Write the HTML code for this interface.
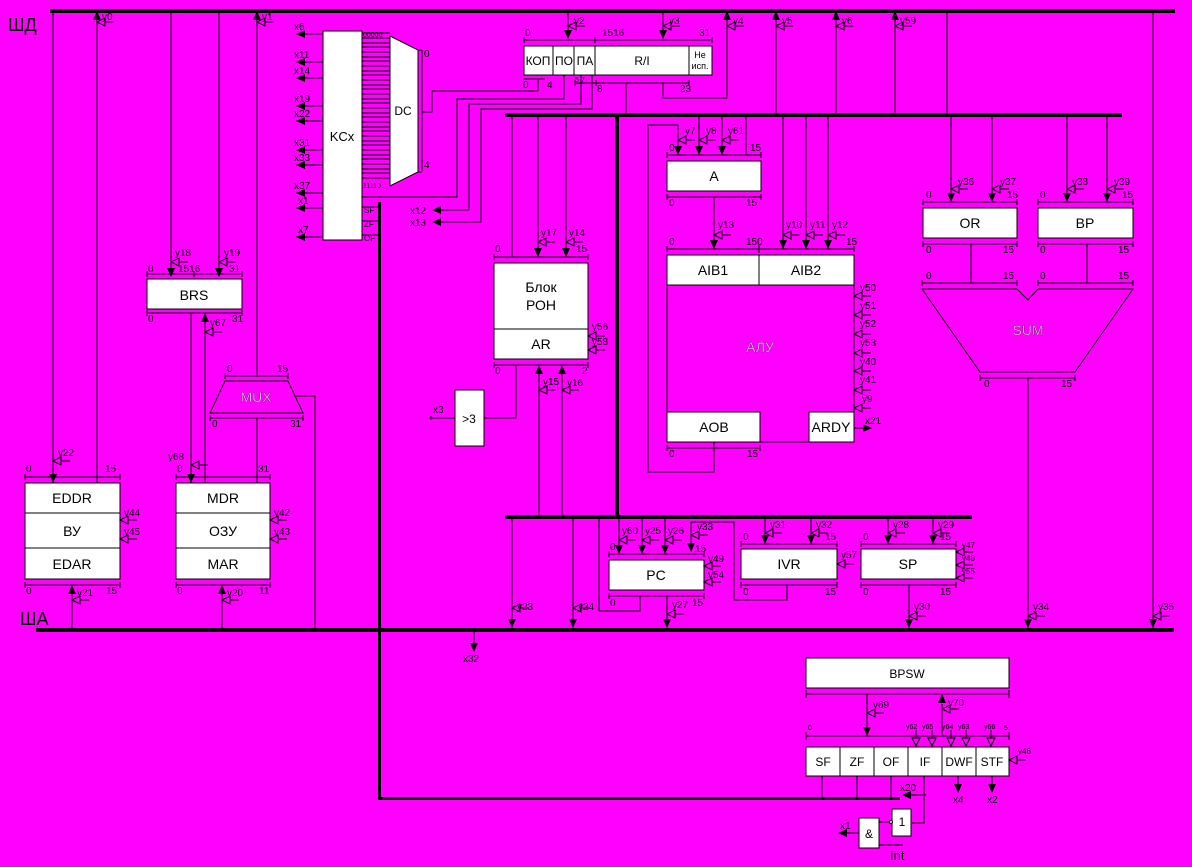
<!DOCTYPE html>
<html><head><meta charset="utf-8"><style>
html,body{margin:0;padding:0;background:#ff00ff;}
svg{display:block}
text{font-family:"Liberation Sans","DejaVu Sans",sans-serif;fill:#000}
.s{font-size:10px}
.m{font-size:14px}
.b{font-size:18px}
.lt{fill:#ffc0ff;stroke:#000;stroke-width:0.25}
</style></head><body>
<svg width="1192" height="867" viewBox="0 0 1192 867" xmlns="http://www.w3.org/2000/svg">
<defs>
<polygon id="d" points="-4,-9 4,-9 0,0" fill="#000"/>
<polygon id="u" points="-4,9 4,9 0,0" fill="#000"/>
<polygon id="l" points="9,-4 9,4 0,0" fill="#000"/>
<polygon id="r" points="-9,-4 -9,4 0,0" fill="#000"/>
<g id="c"><polygon points="0,0 8,-4 8,4" fill="none" stroke="#000"/><line x1="8" y1="0" x2="17" y2="0" stroke="#000"/></g>
<g id="cd"><polygon points="-4,-8 4,-8 0,0" fill="none" stroke="#000"/><line x1="0" y1="-8" x2="0" y2="-16" stroke="#000"/></g>
</defs>
<rect width="1192" height="867" fill="#ff00ff"/>

<rect x="50" y="9" width="1125" height="4" fill="#000"/>
<rect x="36" y="628" width="1138" height="4" fill="#000"/>
<rect x="505" y="113" width="617" height="4" fill="#000"/>
<rect x="615" y="115" width="4" height="402" fill="#000"/>
<rect x="505" y="515" width="467" height="4" fill="#000"/>
<rect x="378" y="202" width="3" height="598" fill="#000"/>
<rect x="378" y="797" width="522" height="3" fill="#000"/>
<text x="8" y="31" class="b">ШД</text>
<text x="20" y="625" class="b">ША</text>

<g stroke="#000" fill="none" stroke-width="1">
<line x1="53" y1="11" x2="53" y2="483"/>
<line x1="97" y1="11" x2="97" y2="483"/>
<line x1="171" y1="11" x2="171" y2="275"/>
<line x1="219" y1="11" x2="219" y2="275"/>
<line x1="257" y1="11" x2="257" y2="376"/>
<line x1="191" y1="313" x2="191" y2="483"/>
<line x1="205" y1="313" x2="205" y2="483"/>
<line x1="257" y1="418" x2="257" y2="483"/>
<polyline points="296,396 315,396 315,630"/>
<line x1="72" y1="585" x2="72" y2="630"/>
<line x1="222" y1="585" x2="222" y2="630"/>
<rect x="25" y="483" width="95" height="96" fill="#fff"/>
<line x1="25" y1="513" x2="120" y2="513"/><line x1="25" y1="548" x2="120" y2="548"/>
<rect x="176" y="483" width="94" height="96" fill="#fff"/>
<line x1="176" y1="513" x2="270" y2="513"/><line x1="176" y1="548" x2="270" y2="548"/>
<rect x="147" y="279" width="95" height="30" fill="#fff"/>
<polygon points="225,381 288,381 303,413 210,413" />
<path d="M25,477H120M25,474v6M120,474v6"/>
<path d="M25,585H120M25,582v6M120,582v6"/>
<path d="M176,477H270M176,474v6M270,474v6"/>
<path d="M176,585H270M176,582v6M270,582v6"/>
<path d="M147,274H242M147,271v6M242,271v6M194,271v6"/>
<path d="M147,313H242M147,310v6M242,310v6"/>
<path d="M225,376H288M225,373v6M288,373v6"/>
<path d="M210,418H303M210,415v6M303,415v6"/>

<rect x="323" y="31" width="39" height="209" fill="#fff"/>
<polygon points="390,36 418,50 418,172 390,186" fill="#fff"/>
<path d="M422,50V172M418,50h4M418,172h4"/>
<path d="M362,33H390M362,38H390M362,43H390M362,47H390M362,52H390M362,57H390M362,61H390M362,66H390M362,71H390M362,75H390M362,80H390M362,85H390M362,89H390M362,94H390M362,99H390M362,103H390M362,108H390M362,113H390M362,117H390M362,122H390M362,127H390M362,131H390M362,136H390M362,141H390M362,145H390M362,150H390M362,155H390M362,159H390M362,164H390M362,169H390M362,173H390M362,178H390"/>
<path d="M362,197H457V99H564V75"/>
<path d="M422,112H432V91H538V79M523,79H545"/>
<path d="M440,210H469V104H581V75"/>
<path d="M440,222H481V109H592V75"/>
<path d="M362,207H378M362,221H378M362,235H378"/>
<path d="M296,34H323M296,62H323M296,78H323M296,106H323M296,121H323M296,150H323M296,165H323M296,193H323M296,208H323M296,237H323"/>

<rect x="524" y="46" width="188" height="29" fill="#fff"/>
<path d="M553,46V75M574,46V75M595,46V75M689,46V75"/>
<path d="M524,40H712M524,37v6M712,37v6M595,37v6"/>
<line x1="568" y1="11" x2="568" y2="36"/>
<line x1="663" y1="11" x2="663" y2="36"/>
<path d="M575,83H689M575,80v6M689,80v6M596,80v6"/>
<path d="M663,83V98H727V11"/>
<line x1="626" y1="83" x2="626" y2="115"/>
<line x1="776" y1="11" x2="776" y2="115"/>
<line x1="836" y1="11" x2="836" y2="115"/>
<line x1="895" y1="11" x2="895" y2="115"/>
<line x1="947" y1="11" x2="947" y2="115"/>
<line x1="1153" y1="11" x2="1153" y2="628"/>

<line x1="512" y1="115" x2="512" y2="257"/>
<line x1="538" y1="115" x2="538" y2="251"/>
<line x1="566" y1="115" x2="566" y2="251"/>
<rect x="494" y="263" width="94" height="96" fill="#fff"/>
<line x1="494" y1="329" x2="588" y2="329"/>
<path d="M494,257H588M494,254v6M588,254v6"/>
<path d="M494,365H588M494,362v6M588,362v6"/>
<line x1="539" y1="365" x2="539" y2="517"/>
<line x1="562" y1="365" x2="562" y2="517"/>
<rect x="455" y="390" width="29" height="56" fill="#fff"/>
<path d="M484,418H516V365"/>
<line x1="431" y1="418" x2="455" y2="418"/>

<path d="M714,442V472H648V125H678V150"/>
<line x1="699" y1="115" x2="699" y2="150"/>
<line x1="722" y1="115" x2="722" y2="150"/>
<line x1="746" y1="115" x2="746" y2="155"/>
<rect x="667" y="161" width="94" height="30" fill="#fff"/>
<path d="M667,155H761M667,152v6M761,152v6"/>
<path d="M667,197H761M667,194v6M761,194v6"/>
<line x1="714" y1="197" x2="714" y2="240"/>
<line x1="783" y1="115" x2="783" y2="240"/>
<line x1="806" y1="115" x2="806" y2="240"/>
<line x1="828" y1="115" x2="828" y2="240"/>
<path d="M667,249H854M667,246v6M854,246v6M759,245v8"/>
<rect x="667" y="255" width="187" height="187"/>
<rect x="667" y="255" width="92" height="30" fill="#fff"/>
<rect x="759" y="255" width="95" height="30" fill="#fff"/>
<rect x="667" y="412" width="93" height="30" fill="#fff"/>
<rect x="809" y="412" width="45" height="30" fill="#fff"/>
<path d="M667,448H760M667,445v6M760,445v6"/>
<line x1="854" y1="428" x2="870" y2="428"/>

<line x1="951" y1="115" x2="951" y2="199"/>
<line x1="992" y1="115" x2="992" y2="199"/>
<line x1="1067" y1="115" x2="1067" y2="199"/>
<line x1="1107" y1="115" x2="1107" y2="199"/>
<rect x="923" y="208" width="94" height="30" fill="#fff"/>
<rect x="1038" y="208" width="95" height="30" fill="#fff"/>
<path d="M923,202H1017M923,199v6M1017,199v6"/>
<path d="M1038,202H1133M1038,199v6M1133,199v6"/>
<path d="M923,244H1017M923,241v6M1017,241v6"/>
<path d="M1038,244H1133M1038,241v6M1133,241v6"/>
<line x1="971" y1="244" x2="971" y2="283"/>
<line x1="1087" y1="244" x2="1087" y2="283"/>
<path d="M922,283H1017M922,280v6M1017,280v6"/>
<path d="M1038,283H1133M1038,280v6M1133,280v6"/>
<polygon points="922,289 1017,289 1028,300 1038,289 1133,289 1075,372 980,372"/>
<path d="M980,378H1075M980,375v6M1075,375v6"/>
<line x1="1028" y1="378" x2="1028" y2="628"/>

<line x1="512" y1="517" x2="512" y2="622"/>
<line x1="573" y1="517" x2="573" y2="622"/>
<path d="M599,517V611H640V596"/>
<line x1="619" y1="517" x2="619" y2="545"/>
<line x1="642" y1="517" x2="642" y2="545"/>
<line x1="665" y1="517" x2="665" y2="545"/>
<path d="M691,545V522H734V600H787V585"/>
<rect x="609" y="560" width="95" height="30" fill="#fff"/>
<path d="M609,554H704M609,551v6M704,551v6"/>
<path d="M609,596H704M609,593v6M704,593v6"/>
<line x1="667" y1="596" x2="667" y2="622"/>
<line x1="765" y1="517" x2="765" y2="535"/>
<line x1="811" y1="517" x2="811" y2="535"/>
<rect x="741" y="549" width="96" height="30" fill="#fff"/>
<path d="M741,544H837M741,541v6M837,541v6"/>
<path d="M741,585H837M741,582v6M837,582v6"/>
<line x1="888" y1="517" x2="888" y2="535"/>
<line x1="933" y1="517" x2="933" y2="535"/>
<rect x="861" y="549" width="95" height="30" fill="#fff"/>
<path d="M861,544H956M861,541v6M956,541v6"/>
<path d="M861,585H956M861,582v6M956,582v6"/>
<line x1="909" y1="585" x2="909" y2="622"/>
<line x1="474" y1="630" x2="474" y2="645"/>

<rect x="806" y="658" width="203" height="30" fill="#fff"/>
<path d="M806,694H1009M806,690v8M1009,690v8"/>
<line x1="867" y1="694" x2="867" y2="728"/>
<line x1="942" y1="704" x2="942" y2="736"/>
<path d="M806,736H1009M806,732v8M1009,732v8"/>
<rect x="806" y="747" width="203" height="29" fill="#fff"/>
<path d="M840,747V776M874,747V776M908,747V776M942,747V776M976,747V776"/>
<path d="M822,776V798M857,776V798M891,776V798"/>
<line x1="904" y1="795" x2="926" y2="795"/>
<path d="M924,776V823H912"/>
<line x1="958" y1="776" x2="958" y2="786"/>
<line x1="992" y1="776" x2="992" y2="786"/>
<rect x="892" y="809" width="19" height="27" fill="#fff"/>
<rect x="859" y="818" width="20" height="30" fill="#fff"/>
<line x1="879" y1="822" x2="890" y2="822"/>
<line x1="879" y1="845" x2="903" y2="845"/>
<line x1="846" y1="833" x2="859" y2="833"/>
</g>
<circle cx="891" cy="822" r="1.5" fill="#fff" stroke="#000"/>

<use href="#d" x="53" y="483"/><use href="#u" x="97" y="11"/>
<use href="#d" x="171" y="277"/><use href="#d" x="219" y="277"/>
<use href="#u" x="257" y="11"/>
<use href="#d" x="191" y="483"/><use href="#u" x="205" y="313"/>
<use href="#u" x="72" y="585"/><use href="#u" x="222" y="585"/>
<use href="#d" x="568" y="39"/><use href="#d" x="663" y="39"/>
<use href="#u" x="727" y="11"/><use href="#u" x="776" y="11"/><use href="#u" x="836" y="11"/><use href="#u" x="895" y="11"/>
<use href="#l" x="296" y="34"/><use href="#l" x="296" y="62"/><use href="#l" x="296" y="78"/><use href="#l" x="296" y="106"/><use href="#l" x="296" y="121"/><use href="#l" x="296" y="150"/><use href="#l" x="296" y="165"/><use href="#l" x="296" y="193"/><use href="#l" x="296" y="208"/><use href="#l" x="296" y="237"/>
<use href="#l" x="432" y="210"/><use href="#l" x="432" y="222"/>
<use href="#d" x="538" y="257"/><use href="#d" x="566" y="257"/>
<use href="#u" x="539" y="365"/><use href="#u" x="562" y="365"/>
<circle cx="431" cy="418" r="1.5" fill="#000"/>
<use href="#d" x="678" y="155"/><use href="#d" x="699" y="155"/><use href="#d" x="722" y="155"/>
<use href="#d" x="714" y="249"/><use href="#d" x="783" y="249"/><use href="#d" x="806" y="249"/><use href="#d" x="828" y="249"/>
<use href="#r" x="872" y="428"/>
<use href="#d" x="951" y="202"/><use href="#d" x="992" y="202"/><use href="#d" x="1067" y="202"/><use href="#d" x="1107" y="202"/>
<use href="#d" x="512" y="628"/><use href="#d" x="573" y="628"/><use href="#d" x="667" y="628"/><use href="#d" x="909" y="628"/><use href="#d" x="1028" y="628"/><use href="#d" x="1153" y="628"/>
<use href="#d" x="619" y="554"/><use href="#d" x="642" y="554"/><use href="#d" x="665" y="554"/><use href="#d" x="691" y="552"/>
<use href="#d" x="765" y="544"/><use href="#d" x="811" y="544"/><use href="#d" x="888" y="544"/><use href="#d" x="933" y="544"/>
<use href="#d" x="474" y="652"/>
<use href="#d" x="867" y="736"/><use href="#u" x="942" y="694"/>
<use href="#l" x="902" y="795"/><use href="#d" x="958" y="793"/><use href="#d" x="992" y="793"/>
<use href="#l" x="838" y="833"/>

<use href="#c" x="97" y="22"/><use href="#c" x="257" y="22"/>
<use href="#c" x="171" y="262"/><use href="#c" x="219" y="262"/>
<use href="#c" x="53" y="461"/><use href="#c" x="191" y="465"/>
<use href="#c" x="205" y="332"/>
<use href="#c" x="72" y="600"/><use href="#c" x="222" y="600"/>
<use href="#c" x="120" y="520"/><use href="#c" x="120" y="539"/>
<use href="#c" x="270" y="520"/><use href="#c" x="270" y="539"/>
<use href="#c" x="568" y="26"/><use href="#c" x="663" y="26"/><use href="#c" x="727" y="26"/><use href="#c" x="776" y="26"/><use href="#c" x="836" y="26"/><use href="#c" x="895" y="26"/>
<use href="#c" x="538" y="242"/><use href="#c" x="566" y="242"/>
<use href="#c" x="588" y="336"/><use href="#c" x="588" y="350"/>
<use href="#c" x="539" y="390"/><use href="#c" x="562" y="390"/>
<use href="#c" x="678" y="140"/><use href="#c" x="699" y="140"/><use href="#c" x="722" y="140"/>
<use href="#c" x="714" y="235"/><use href="#c" x="783" y="235"/><use href="#c" x="806" y="235"/><use href="#c" x="828" y="235"/>
<use href="#c" x="854" y="296"/><use href="#c" x="854" y="315"/><use href="#c" x="854" y="334"/><use href="#c" x="854" y="353"/><use href="#c" x="854" y="371"/><use href="#c" x="854" y="390"/><use href="#c" x="854" y="408"/>
<use href="#c" x="951" y="189"/><use href="#c" x="992" y="189"/><use href="#c" x="1067" y="189"/><use href="#c" x="1107" y="189"/>
<use href="#c" x="512" y="608"/><use href="#c" x="573" y="608"/><use href="#c" x="667" y="614"/><use href="#c" x="909" y="616"/><use href="#c" x="1028" y="616"/><use href="#c" x="1153" y="616"/>
<use href="#c" x="619" y="540"/><use href="#c" x="642" y="540"/><use href="#c" x="665" y="540"/><use href="#c" x="691" y="535"/>
<use href="#c" x="704" y="566"/><use href="#c" x="704" y="582"/>
<use href="#c" x="765" y="533"/><use href="#c" x="811" y="533"/><use href="#c" x="888" y="533"/><use href="#c" x="933" y="533"/>
<use href="#c" x="837" y="564"/>
<use href="#c" x="956" y="552"/><use href="#c" x="956" y="565"/><use href="#c" x="956" y="578"/>
<use href="#c" x="867" y="713"/><use href="#c" x="942" y="709"/>
<use href="#cd" x="916" y="746"/><use href="#cd" x="932" y="746"/><use href="#cd" x="951" y="746"/><use href="#cd" x="966" y="746"/><use href="#cd" x="991" y="746"/>
<use href="#c" x="1009" y="760"/>

<g class="m" text-anchor="middle">
<text x="72" y="503">EDDR</text><text x="72" y="536">ВУ</text><text x="72" y="569">EDAR</text>
<text x="223" y="503">MDR</text><text x="223" y="536">ОЗУ</text><text x="223" y="569">MAR</text>
<text x="194" y="300">BRS</text>
<text x="256" y="402" class="lt">MUX</text>
<text x="342" y="141" font-size="13">KCx</text>
<text x="403" y="115" font-size="12">DC</text>
<text x="541" y="292">Блок</text><text x="541" y="310">РОН</text><text x="541" y="349">AR</text>
<text x="469" y="423" font-size="12">&gt;3</text>
<text x="714" y="181">A</text>
<text x="713" y="275">AIB1</text><text x="806" y="275">AIB2</text>
<text x="760" y="352" class="lt">АЛУ</text>
<text x="714" y="432">AOB</text><text x="831" y="432">ARDY</text>
<text x="970" y="228">OR</text><text x="1085" y="228">BP</text>
<text x="1028" y="335" class="lt">SUM</text>
<text x="656" y="580">PC</text><text x="789" y="569">IVR</text><text x="908" y="569">SP</text>
<text x="907" y="678" font-size="12">BPSW</text>
<g font-size="12"><text x="823" y="766">SF</text><text x="857" y="766">ZF</text><text x="891" y="766">OF</text><text x="925" y="766">IF</text><text x="959" y="766">DWF</text><text x="992" y="766">STF</text></g>
<g font-size="12"><text x="538" y="65">КОП</text><text x="564" y="65">ПО</text><text x="585" y="65">ПА</text><text x="642" y="65">R/I</text></g>
<text x="700" y="58" font-size="9">Не</text><text x="700" y="69" font-size="9">исп.</text>
<text x="869" y="838" font-size="12">&amp;</text><text x="902" y="826" font-size="12">1</text>
</g>
<text x="890" y="860" font-size="13">Int</text>

<g class="s">
<text x="102" y="20">y0</text><text x="262" y="20">y1</text>
<text x="574" y="24">y2</text><text x="669" y="24">y3</text><text x="733" y="24">y4</text><text x="782" y="24">y5</text><text x="842" y="24">y6</text><text x="900" y="24">y59</text>
<text x="175" y="256">y18</text><text x="224" y="256">y19</text>
<text x="148" y="272">0</text><text x="178" y="272">1516</text><text x="229" y="272">31</text>
<text x="148" y="322">0</text><text x="210" y="326">y67</text><text x="232" y="322">31</text>
<text x="227" y="372">0</text><text x="277" y="372">15</text><text x="212" y="427">0</text><text x="290" y="427">31</text>
<text x="58" y="456">y22</text><text x="168" y="460">y68</text>
<text x="26" y="472">0</text><text x="105" y="472">15</text><text x="177" y="472">0</text><text x="258" y="472">31</text>
<text x="124" y="516">y44</text><text x="124" y="535">y45</text><text x="274" y="516">y42</text><text x="274" y="535">y43</text>
<text x="26" y="594">0</text><text x="106" y="594">15</text><text x="77" y="596">y21</text>
<text x="177" y="594">0</text><text x="259" y="594">11</text><text x="227" y="596">y20</text>
<text x="294" y="30">x6</text><text x="294" y="58">x11</text><text x="294" y="74">x14</text><text x="294" y="102">x19</text><text x="294" y="117">x22</text><text x="294" y="146">x31</text><text x="294" y="161">x33</text><text x="294" y="189">x37</text><text x="298" y="204">x1</text><text x="298" y="233">x7</text>
<text x="363" y="37" font-size="7">00000</text><text x="363" y="188" font-size="7">11110</text>
<text x="424" y="57">0</text><text x="424" y="168">4</text>
<text x="364" y="213" font-size="8">SF</text><text x="364" y="227" font-size="8">ZF</text><text x="364" y="241" font-size="8">OF</text>
<text x="410" y="214">x12</text><text x="410" y="226">x13</text>
<text x="525" y="36">0</text><text x="602" y="36">1516</text><text x="699" y="36">31</text>
<text x="523" y="88">0</text><text x="547" y="88">4</text><text x="575" y="82" font-size="7">5 7</text><text x="597" y="92">8</text><text x="680" y="92">23</text>
<text x="541" y="236">y17</text><text x="569" y="236">y14</text><text x="495" y="252">0</text><text x="576" y="252">15</text>
<text x="592" y="330">y56</text><text x="592" y="345">y58</text>
<text x="495" y="374">0</text><text x="582" y="374">2</text><text x="543" y="385">y15</text><text x="567" y="386">y16</text>
<text x="433" y="413">x3</text>
<text x="685" y="134">y7</text><text x="706" y="134">y8</text><text x="728" y="134">y61</text>
<text x="669" y="151">0</text><text x="750" y="151">15</text><text x="669" y="206">0</text><text x="746" y="206">15</text>
<text x="718" y="228">y13</text><text x="786" y="228">y10</text><text x="810" y="228">y11</text><text x="832" y="228">y12</text>
<text x="669" y="245">0</text><text x="746" y="245">150</text><text x="846" y="245">15</text>
<text x="860" y="291">y50</text><text x="860" y="309">y51</text><text x="860" y="327">y52</text><text x="860" y="346">y53</text><text x="860" y="365">y40</text><text x="860" y="383">y41</text><text x="862" y="402">y9</text><text x="865" y="424">x21</text>
<text x="669" y="457">0</text><text x="747" y="457">15</text>
<text x="958" y="185">y36</text><text x="1000" y="185">y37</text><text x="1072" y="185">y38</text><text x="1114" y="185">y39</text>
<text x="926" y="198">0</text><text x="1007" y="198">15</text><text x="1040" y="198">0</text><text x="1122" y="198">15</text>
<text x="926" y="253">0</text><text x="1003" y="253">15</text><text x="1040" y="253">0</text><text x="1118" y="253">15</text>
<text x="926" y="279">0</text><text x="1003" y="279">15</text><text x="1040" y="279">0</text><text x="1118" y="279">15</text>
<text x="984" y="387">0</text><text x="1061" y="387">15</text>
<text x="517" y="610">y23</text><text x="578" y="610">y24</text><text x="672" y="608">y27</text><text x="914" y="610">y30</text><text x="1033" y="610">y34</text><text x="1158" y="610">y35</text>
<text x="622" y="534">y60</text><text x="645" y="534">y25</text><text x="668" y="534">y26</text><text x="697" y="530">y33</text>
<text x="610" y="550">0</text><text x="695" y="552">15</text><text x="708" y="562">y49</text><text x="708" y="578">y54</text>
<text x="610" y="606">0</text><text x="692" y="606">15</text>
<text x="770" y="528">y31</text><text x="816" y="528">y32</text><text x="743" y="540">0</text><text x="825" y="540">15</text>
<text x="841" y="558">y57</text><text x="743" y="595">0</text><text x="825" y="595">15</text>
<text x="893" y="528">y28</text><text x="938" y="528">y29</text><text x="863" y="540">0</text><text x="940" y="540">15</text>
<text x="962" y="548" font-size="8">y47</text><text x="962" y="561" font-size="8">y48</text><text x="962" y="574" font-size="8">y55</text>
<text x="863" y="595">0</text><text x="940" y="595">15</text>
<text x="463" y="662">x32</text>
<text x="873" y="708">y69</text><text x="948" y="706">y70</text>
<text x="808" y="730" font-size="7">0</text><text x="1004" y="730" font-size="7">5</text>
<text x="906" y="729" font-size="7">y62</text><text x="922" y="729" font-size="7">y65</text><text x="942" y="729" font-size="7">y64</text><text x="958" y="729" font-size="7">y63</text><text x="984" y="729" font-size="7">y66</text>
<text x="1018" y="754" font-size="8">y46</text>
<text x="900" y="791">x20</text><text x="953" y="803">x4</text><text x="987" y="803">x2</text>
<text x="840" y="829">x1</text>
</g>
</svg>
</body></html>
